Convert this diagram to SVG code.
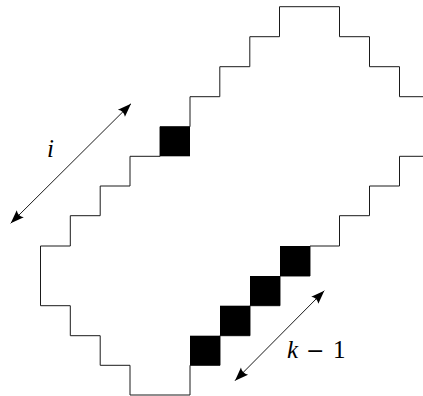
<svg xmlns="http://www.w3.org/2000/svg" width="423" height="396" viewBox="0 0 423 396">
<style>
.outline{fill:none;stroke:#1a1a1a;stroke-width:1}
.cell{fill:#000}
.arrow{fill:none;stroke:#000;stroke-width:0.9;marker-start:url(#ah);marker-end:url(#ah)}
</style>
<defs>
<marker id="ah" markerUnits="userSpaceOnUse" viewBox="-14 -6 15 12" refX="0" refY="0" markerWidth="15" markerHeight="12" orient="auto-start-reverse">
<path d="M0,0 L-13.5,-5 Q-10,0 -13.5,5 Z" fill="#000"/>
</marker>
</defs>
<g id="outline">
<path class="outline" d="M423,96.7 H399.5 V66.7 H369.5 V36.7 H339.5 V6.7 H279.5 V36.7 H249.8 V66.7 H219.8 V96.7 H190 V126.7 H160 V156.3 H130 V186 H100.2 V215.7 H70.3 V246 H40.5 V305.7 H70.3 V335.7 H100.2 V365.3 H130 V395 H190 V365.3 H220 V335.7 H250 V305.7 H280 V276 H310 V246 H339.5 V215.7 H369.5 V186 H399.5 V156.3 H423"/>
</g>
<g id="cells">
<rect class="cell" x="160" y="126.7" width="30" height="29.6"/>
<rect class="cell" x="190" y="335.7" width="30" height="29.6"/>
<rect class="cell" x="220" y="305.7" width="30" height="30"/>
<rect class="cell" x="250" y="276" width="30" height="29.7"/>
<rect class="cell" x="280" y="246" width="30" height="30"/>
</g>
<g id="connectors">
<line class="arrow" x1="10.7" y1="223.3" x2="131" y2="103.7"/>
<line class="arrow" x1="235" y1="380.7" x2="324.3" y2="290.7"/>
</g>
<g id="labels" font-family="'Liberation Serif', 'Times New Roman', 'DejaVu Serif', serif" font-size="25" fill="#000">
<text x="47" y="156.5" font-style="italic">i</text>
<text x="287" y="357.5"><tspan font-style="italic">k</tspan><tspan x="306" font-family="'DejaVu Serif', serif" font-size="22">−</tspan><tspan x="333">1</tspan></text>
</g>
</svg>
